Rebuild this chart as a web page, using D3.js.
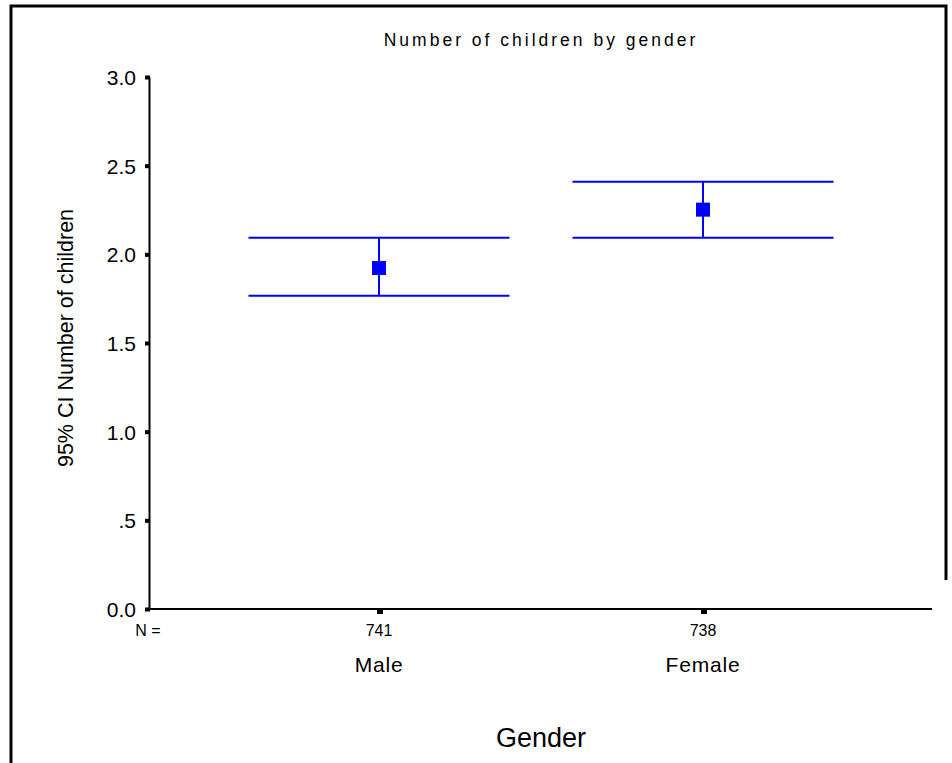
<!DOCTYPE html>
<html>
<head>
<meta charset="utf-8">
<script src="https://cdn.jsdelivr.net/npm/d3@7"></script>
<style>
  body { margin: 0; background: #fff; }
  svg { display: block; font-family: "Liberation Sans", Arial, sans-serif; }
</style>
</head>
<body>
<svg id="chart" width="952" height="763"></svg>
<script>
// Mean number of children with 95% confidence interval, by gender
const categories = ["Male", "Female"];
const counts = [741, 738];
const means = [1.923, 2.252];
const lower = [1.767, 2.093];
const upper = [2.093, 2.410];
const yTicks = [0, 0.5, 1.0, 1.5, 2.0, 2.5, 3.0];
const yTickLabels = ["0.0", ".5", "1.0", "1.5", "2.0", "2.5", "3.0"];

const svg = d3.select("#chart");
const plot = { left: 149, right: 932, top: 77, bottom: 609 };

// frame around the chart
svg.append("path")
  .attr("d", "M11,763 V6 H946 V580")
  .attr("fill", "none").attr("stroke", "#000").attr("stroke-width", 3);

const y = d3.scaleLinear().domain([0, 3]).range([plot.bottom, plot.top]);
const x = d3.scalePoint().domain(categories).range([379, 703]);

// title
svg.append("text")
  .attr("x", 541).attr("y", 46)
  .attr("text-anchor", "middle")
  .attr("font-size", 17.5).attr("letter-spacing", 3)
  .text("Number of children by gender");

// y axis
const yAxis = d3.axisLeft(y)
  .tickValues(yTicks)
  .tickFormat((d, i) => yTickLabels[i])
  .tickSize(0).tickPadding(13);
const gy = svg.append("g").attr("transform", `translate(${plot.left},0)`).call(yAxis);
gy.select(".domain").attr("stroke", "#000").attr("stroke-width", 2);
gy.selectAll(".tick text").attr("font-size", 21).attr("fill", "#000")
  .attr("dy", "0.36em")
  .attr("font-family", "Liberation Sans, Arial, sans-serif");
gy.selectAll(".tick").append("rect")
  .attr("x", -4).attr("y", -2).attr("width", 5).attr("height", 4).attr("fill", "#000");

// x axis
svg.append("line")
  .attr("x1", plot.left).attr("x2", plot.right)
  .attr("y1", plot.bottom).attr("y2", plot.bottom)
  .attr("stroke", "#000").attr("stroke-width", 2);
categories.forEach((c, i) => {
  svg.append("rect")
    .attr("x", x(c) - 2).attr("y", plot.bottom).attr("width", 6).attr("height", 5)
    .attr("fill", "#000");
  svg.append("text")
    .attr("x", x(c)).attr("y", 636)
    .attr("text-anchor", "middle").attr("font-size", 16)
    .text(counts[i]);
  svg.append("text")
    .attr("x", x(c)).attr("y", 672)
    .attr("text-anchor", "middle").attr("font-size", 21).attr("letter-spacing", 0.8)
    .text(c);
});
svg.append("text")
  .attr("x", 148).attr("y", 636)
  .attr("text-anchor", "middle").attr("font-size", 16)
  .text("N =");

// axis titles
svg.append("text")
  .attr("transform", `translate(73,338) rotate(-90)`)
  .attr("text-anchor", "middle").attr("font-size", 21.5)
  .text("95% CI Number of children");
svg.append("text")
  .attr("x", 541).attr("y", 747)
  .attr("text-anchor", "middle").attr("font-size", 27)
  .text("Gender");

// confidence intervals
const halfWidth = 130.5;
const blue = "#0000ff";
const g = svg.append("g");
categories.forEach((c, i) => {
  const cx = x(c);
  g.append("line")
    .attr("x1", cx).attr("x2", cx)
    .attr("y1", y(upper[i])).attr("y2", y(lower[i]))
    .attr("stroke", blue).attr("stroke-width", 2);
  [upper[i], lower[i]].forEach(v => {
    g.append("line")
      .attr("x1", cx - halfWidth).attr("x2", cx + halfWidth)
      .attr("y1", y(v)).attr("y2", y(v))
      .attr("stroke", blue).attr("stroke-width", 2);
  });
  g.append("rect")
    .attr("x", cx - 7).attr("y", y(means[i]) - 7)
    .attr("width", 14).attr("height", 14)
    .attr("fill", blue);
});
</script>
</body>
</html>
